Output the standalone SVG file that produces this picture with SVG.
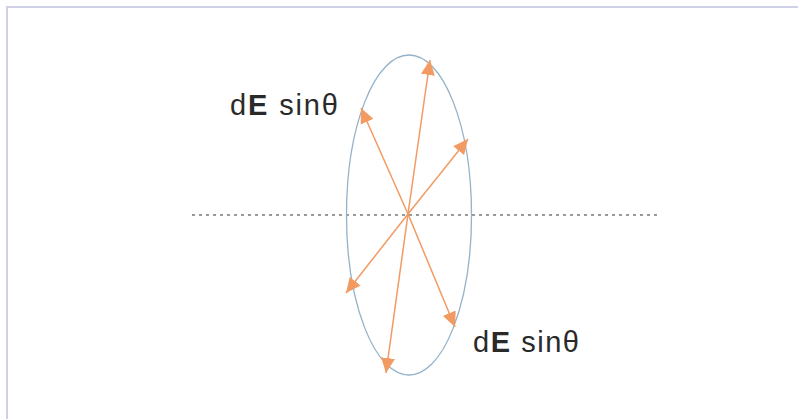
<svg xmlns="http://www.w3.org/2000/svg" width="798" height="419" viewBox="0 0 798 419">
<style>
.lbl{font-family:"Liberation Sans","DejaVu Sans",sans-serif;font-size:29px;fill:#2a2a2a}
.b{font-weight:bold}
.arr{stroke:#F29A62;stroke-width:1.5;fill:none;marker-end:url(#ah)}
</style>
<defs>
<marker id="ah" markerUnits="userSpaceOnUse" markerWidth="16" markerHeight="14" refX="15" refY="7" orient="auto">
<path d="M0,0 L15,7 L0,14 z" fill="#F29A62"/>
</marker>
</defs>
<rect x="0" y="0" width="798" height="419" fill="#fff"/>
<rect x="7" y="7" width="800" height="420" fill="none" stroke="#CFCFE8" stroke-width="2"/>
<g id="axis">
<line x1="192" y1="215" x2="658" y2="215" stroke="#9a9a9a" stroke-width="2" stroke-dasharray="3 4"/>
</g>
<g id="ring">
<ellipse cx="409" cy="215" rx="62.5" ry="160" fill="none" stroke="#94B2C8" stroke-width="1.3"/>
</g>
<g id="connectors">
<line class="arr" x1="408" y1="214" x2="430" y2="60"/>
<line class="arr" x1="408" y1="214" x2="361" y2="108"/>
<line class="arr" x1="408" y1="214" x2="468" y2="139"/>
<line class="arr" x1="408" y1="214" x2="346" y2="293"/>
<line class="arr" x1="408" y1="214" x2="386" y2="373"/>
<line class="arr" x1="408" y1="214" x2="455" y2="327"/>
</g>
<g id="label-top">
<text class="lbl" x="230" y="115" textLength="108" lengthAdjust="spacing">d<tspan class="b">E</tspan> sinθ</text>
</g>
<g id="label-bottom">
<text class="lbl" x="473" y="352" textLength="106" lengthAdjust="spacing">d<tspan class="b">E</tspan> sinθ</text>
</g>
</svg>
